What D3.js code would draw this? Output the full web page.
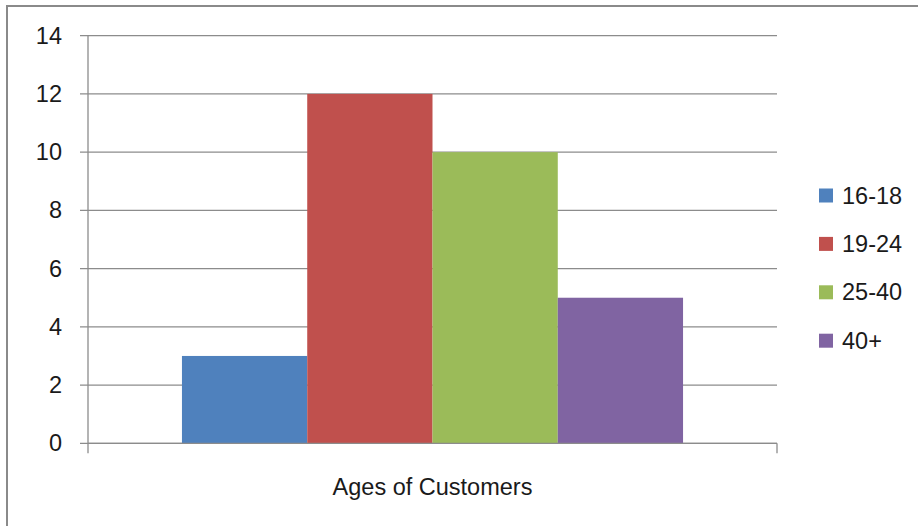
<!DOCTYPE html>
<html>
<head>
<meta charset="utf-8">
<script src="https://cdn.jsdelivr.net/npm/d3@7"></script>
<style>
    body { margin: 0; background: #fff; }
    text { font-family: "Liberation Sans", Arial, sans-serif; fill: #1a1a1a; }
</style>
</head>
<body>
<div id="chart"></div>
<script>
/** * Data * * **/
const categories = ["Ages of Customers"];
const seriesNames = ["16-18", "19-24", "25-40", "40+"];
const seriesValues = [3, 12, 10, 5];
const seriesColors = ["#4F81BD", "#C0504D", "#9BBB59", "#8064A2"];
const yTicks = [0, 2, 4, 6, 8, 10, 12, 14];

const width = 918;
const height = 526;
const plot = { left: 88, right: 777, top: 35.7, bottom: 443.3 };
const gridColor = "#8c8c8c";

const svg = d3.select("#chart")
    .append("svg")
    .attr("width", width)
    .attr("height", height);

// outer frame (only top and left visible in the picture)
svg.append("rect")
    .attr("x", 7)
    .attr("y", 6)
    .attr("width", width + 10)
    .attr("height", height + 10)
    .attr("fill", "none")
    .attr("stroke", "#8a8a8a")
    .attr("stroke-width", 2);

const y = d3.scaleLinear()
    .domain([0, 14])
    .range([plot.bottom, plot.top]);

const x0 = d3.scaleBand()
    .domain(categories)
    .range([plot.left, plot.right]);

// Excel-like gap width of 150%: 0.75 bar width on each side
const x1 = d3.scaleBand()
    .domain(seriesNames)
    .range([0, x0.bandwidth()])
    .paddingInner(0)
    .paddingOuter(0.75);

// gridlines
svg.append("g")
    .selectAll("line")
    .data(yTicks)
    .join("line")
    .attr("x1", plot.left - 8)
    .attr("x2", plot.right)
    .attr("y1", d => y(d))
    .attr("y2", d => y(d))
    .attr("stroke", gridColor)
    .attr("stroke-width", 1.3);

// y tick labels
svg.append("g")
    .selectAll("text")
    .data(yTicks)
    .join("text")
    .attr("x", 62)
    .attr("y", d => y(d))
    .attr("text-anchor", "end")
    .attr("dominant-baseline", "central")
    .attr("font-size", "23.5px")
    .text(d => d);

// bars
svg.append("g")
    .selectAll("rect")
    .data(seriesNames)
    .join("rect")
    .attr("x", (d, i) => x0(categories[0]) + x1(d))
    .attr("y", (d, i) => y(seriesValues[i]))
    .attr("width", x1.bandwidth())
    .attr("height", (d, i) => y(0) - y(seriesValues[i]))
    .attr("fill", (d, i) => seriesColors[i]);

// axes lines
svg.append("line")
    .attr("x1", plot.left).attr("x2", plot.left)
    .attr("y1", plot.top).attr("y2", plot.bottom + 10)
    .attr("stroke", gridColor).attr("stroke-width", 1.3);

svg.append("line")
    .attr("x1", plot.left).attr("x2", plot.right)
    .attr("y1", plot.bottom).attr("y2", plot.bottom)
    .attr("stroke", gridColor).attr("stroke-width", 1.3);

svg.append("line")
    .attr("x1", plot.right).attr("x2", plot.right)
    .attr("y1", plot.bottom).attr("y2", plot.bottom + 10)
    .attr("stroke", gridColor).attr("stroke-width", 1.3);

// category label
svg.append("g")
    .selectAll("text")
    .data(categories)
    .join("text")
    .attr("x", d => x0(d) + x0.bandwidth() / 2)
    .attr("y", 495)
    .attr("text-anchor", "middle")
    .attr("font-size", "23.5px")
    .text(d => d);

// legend
const legend = svg.append("g")
    .selectAll("g")
    .data(seriesNames)
    .join("g")
    .attr("transform", (d, i) => `translate(819, ${195.5 + i * 48.4})`);

legend.append("rect")
    .attr("x", 0)
    .attr("y", -7)
    .attr("width", 14)
    .attr("height", 14)
    .attr("fill", (d, i) => seriesColors[i]);

legend.append("text")
    .attr("x", 23)
    .attr("y", 0)
    .attr("dominant-baseline", "central")
    .attr("font-size", "23.5px")
    .text(d => d);
</script>
</body>
</html>
